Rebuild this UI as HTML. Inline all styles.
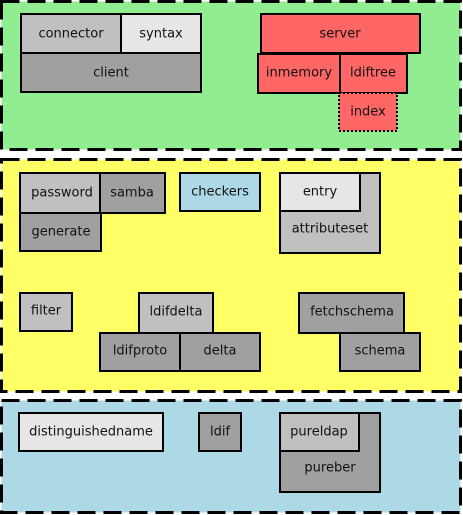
<!DOCTYPE html>
<html><head><style>body{margin:0;background:#fff}svg{display:block}text{font-family:"DejaVu Sans","Liberation Sans",sans-serif;font-size:13px;fill:#111;text-anchor:middle;dominant-baseline:central}</style></head><body>
<svg width="463" height="515" xmlns="http://www.w3.org/2000/svg">
<g stroke="#000" stroke-width="3" stroke-dasharray="18,8">
<rect x="1.5" y="1.5" width="459" height="148" fill="#90ee90"/>
<rect x="1.5" y="159.5" width="459" height="232" fill="#ffff66"/>
<rect x="1.5" y="400.5" width="459" height="112" fill="#add8e6"/>
</g>
<g stroke="#000" stroke-width="2">
<rect x="21" y="14" width="100" height="39" fill="#c0c0c0"/>
<rect x="121" y="14" width="80" height="39" fill="#e6e6e6"/>
<rect x="21" y="53" width="180" height="39" fill="#a0a0a0"/>
<rect x="261" y="14" width="159" height="39" fill="#ff6666"/>
<rect x="258" y="54" width="82" height="39" fill="#ff6666"/>
<rect x="340" y="54" width="67" height="39" fill="#ff6666"/>
<rect x="339" y="93" width="58" height="38" fill="#ff6666" stroke-dasharray="2,2"/>
<rect x="20" y="173" width="80" height="40" fill="#c0c0c0"/>
<rect x="100" y="173" width="65" height="40" fill="#a0a0a0"/>
<rect x="20" y="213" width="81" height="38" fill="#a0a0a0"/>
<rect x="180" y="173" width="80" height="38" fill="#add8e6"/>
<rect x="280" y="173" width="100" height="80" fill="#c0c0c0"/>
<rect x="280" y="173" width="80" height="38" fill="#e6e6e6"/>
<rect x="20" y="293" width="52" height="38" fill="#c0c0c0"/>
<rect x="139" y="293" width="74" height="40" fill="#c0c0c0"/>
<rect x="100" y="333" width="80" height="38" fill="#a0a0a0"/>
<rect x="180" y="333" width="80" height="38" fill="#a0a0a0"/>
<rect x="299" y="293" width="105" height="40" fill="#a0a0a0"/>
<rect x="340" y="333" width="80" height="38" fill="#a0a0a0"/>
<rect x="19" y="413" width="144" height="38" fill="#e6e6e6"/>
<rect x="199" y="413" width="42" height="38" fill="#a0a0a0"/>
<rect x="280" y="413" width="100" height="79" fill="#a0a0a0"/>
<rect x="280" y="413" width="79" height="38" fill="#c0c0c0"/>
</g>
<text x="71" y="34">connector</text><text x="161" y="34">syntax</text><text x="111" y="73">client</text>
<text x="340" y="34">server</text><text x="299" y="73">inmemory</text><text x="373" y="73">ldiftree</text><text x="368" y="112">index</text>
<text x="62" y="193">password</text><text x="132" y="193">samba</text><text x="61" y="232">generate</text><text x="220" y="192">checkers</text>
<text x="320" y="192">entry</text><text x="330" y="229">attributeset</text>
<text x="46" y="311">filter</text><text x="176" y="312">ldifdelta</text><text x="140" y="351">ldifproto</text><text x="220" y="351">delta</text>
<text x="352" y="312">fetchschema</text><text x="380" y="351">schema</text>
<text x="91" y="432">distinguishedname</text><text x="220" y="432">ldif</text><text x="319" y="432">pureldap</text><text x="330" y="468">pureber</text>
</svg>
</body></html>
